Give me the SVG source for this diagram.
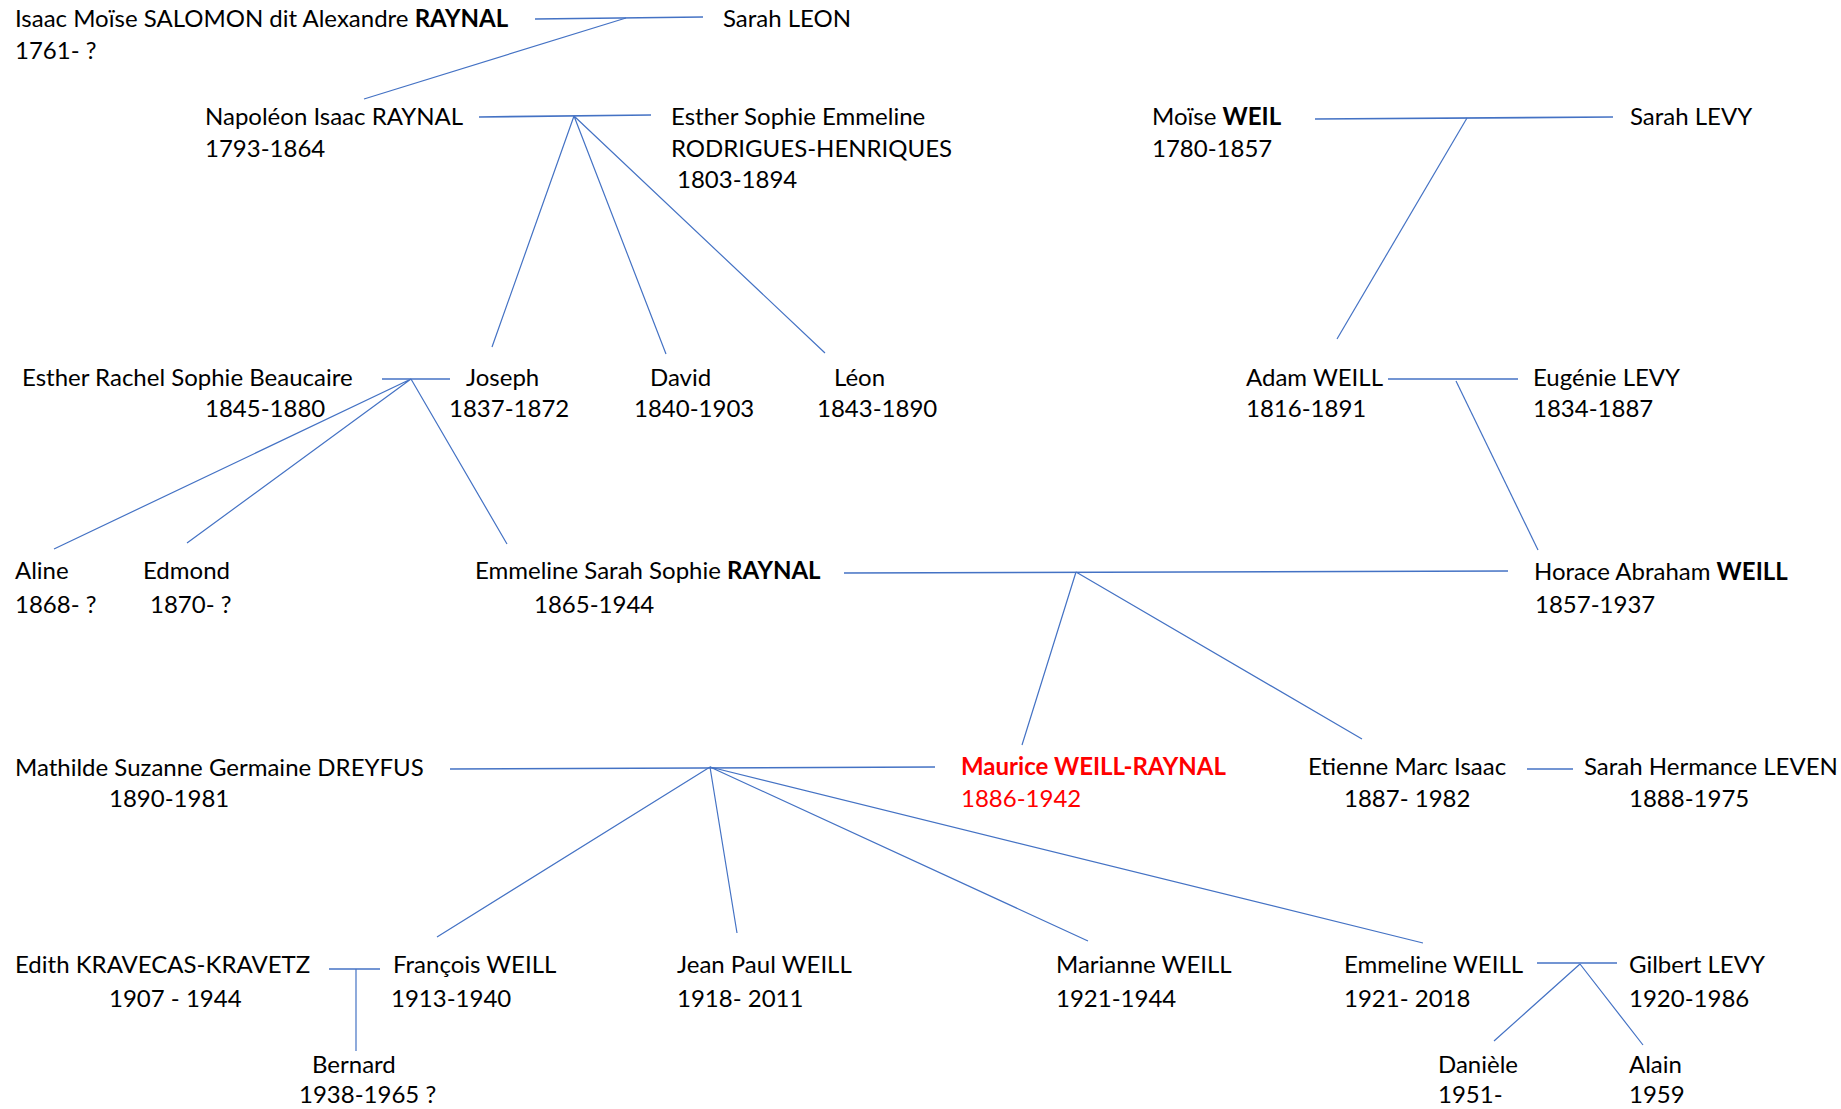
<svg xmlns="http://www.w3.org/2000/svg" width="1841" height="1109" viewBox="0 0 1841 1109">
<style>
text{font-family:Lato,"Liberation Sans",sans-serif;font-size:24px;fill:#000}
.b{font-weight:bold}
.red{fill:#ff0000}
.sp{stroke:#4472C4;stroke-width:1.6;fill:none}
.ch{stroke:#4472C4;stroke-width:1.2;fill:none}
</style>
<rect width="1841" height="1109" fill="#fff"/>
<g id="connectors">
<path class="sp" d="M535,19 L703,17"/>
<path class="ch" d="M626,18 L364,99"/>
<path class="sp" d="M479,117 L651,115"/>
<path class="ch" d="M574,116 L492,347 M574,116 L666,354 M574,116 L825,353"/>
<path class="sp" d="M1315,119 L1613,117"/>
<path class="ch" d="M1467,118 L1337,339"/>
<path class="sp" d="M382,379 L450,379"/>
<path class="ch" d="M411,379 L54,549 M411,379 L187,543 M411,379 L507,544"/>
<path class="sp" d="M1388,379 L1518,379"/>
<path class="ch" d="M1456,381 L1538,550"/>
<path class="sp" d="M844,573 L1508,571"/>
<path class="ch" d="M1076,572 L1022,745 M1076,572 L1362,739"/>
<path class="sp" d="M450,769 L935,767"/>
<path class="sp" d="M1527,769 L1573,769"/>
<path class="ch" d="M710,767 L437,937 M710,767 L737,933 M710,767 L1088,941 M710,767 L1423,943"/>
<path class="sp" d="M329,969 L380,969"/>
<path class="ch" d="M356,969 L356,1051"/>
<path class="sp" d="M1537,963 L1617,963"/>
<path class="ch" d="M1580,964 L1494,1041 M1580,964 L1643,1045"/>
</g>
<g id="isaac"><text x="15" y="27">Isaac Moïse SALOMON dit Alexandre <tspan class="b">RAYNAL</tspan></text><text x="15" y="59">1761- ?</text></g>
<g id="sarah-leon"><text x="723" y="27">Sarah LEON</text></g>
<g id="napoleon"><text x="205" y="125">Napoléon Isaac RAYNAL</text><text x="205" y="157">1793-1864</text></g>
<g id="esther-sophie"><text x="671" y="125">Esther Sophie Emmeline</text><text x="671" y="157">RODRIGUES-HENRIQUES</text><text x="677" y="188">1803-1894</text></g>
<g id="moise"><text x="1152" y="125">Moïse <tspan class="b">WEIL</tspan></text><text x="1152" y="157">1780-1857</text></g>
<g id="sarah-levy"><text x="1630" y="125">Sarah LEVY</text></g>
<g id="esther-rachel"><text x="22" y="386">Esther Rachel Sophie Beaucaire</text><text x="205" y="417">1845-1880</text></g>
<g id="joseph"><text x="466" y="386">Joseph</text><text x="449" y="417">1837-1872</text></g>
<g id="david"><text x="650" y="386">David</text><text x="634" y="417">1840-1903</text></g>
<g id="leon"><text x="834" y="386">Léon</text><text x="817" y="417">1843-1890</text></g>
<g id="adam"><text x="1246" y="386">Adam WEILL</text><text x="1246" y="417">1816-1891</text></g>
<g id="eugenie"><text x="1533" y="386">Eugénie LEVY</text><text x="1533" y="417">1834-1887</text></g>
<g id="aline"><text x="15" y="579">Aline</text><text x="15" y="613">1868- ?</text></g>
<g id="edmond"><text x="143" y="579">Edmond</text><text x="150" y="613">1870- ?</text></g>
<g id="emmeline-raynal"><text x="475" y="579">Emmeline Sarah Sophie <tspan class="b">RAYNAL</tspan></text><text x="534" y="613">1865-1944</text></g>
<g id="horace"><text x="1534" y="580">Horace Abraham <tspan class="b">WEILL</tspan></text><text x="1535" y="613">1857-1937</text></g>
<g id="mathilde"><text x="15" y="776">Mathilde Suzanne Germaine DREYFUS</text><text x="109" y="807">1890-1981</text></g>
<g id="maurice"><text x="961" y="775" class="b red">Maurice WEILL-RAYNAL</text><text x="961" y="807" class="red">1886-1942</text></g>
<g id="etienne"><text x="1308" y="775">Etienne Marc Isaac</text><text x="1344" y="807">1887- 1982</text></g>
<g id="sarah-hermance"><text x="1584" y="775">Sarah Hermance LEVEN</text><text x="1629" y="807">1888-1975</text></g>
<g id="edith"><text x="15" y="973">Edith KRAVECAS-KRAVETZ</text><text x="109" y="1007">1907 - 1944</text></g>
<g id="francois"><text x="393" y="973">François WEILL</text><text x="391" y="1007">1913-1940</text></g>
<g id="jean-paul"><text x="677" y="973">Jean Paul WEILL</text><text x="677" y="1007">1918- 2011</text></g>
<g id="marianne"><text x="1056" y="973">Marianne WEILL</text><text x="1056" y="1007">1921-1944</text></g>
<g id="emmeline-weill"><text x="1344" y="973">Emmeline WEILL</text><text x="1344" y="1007">1921- 2018</text></g>
<g id="gilbert"><text x="1629" y="973">Gilbert LEVY</text><text x="1629" y="1007">1920-1986</text></g>
<g id="bernard"><text x="312" y="1073">Bernard</text><text x="299" y="1103">1938-1965 ?</text></g>
<g id="daniele"><text x="1438" y="1073">Danièle</text><text x="1438" y="1103">1951-</text></g>
<g id="alain"><text x="1629" y="1073">Alain</text><text x="1629" y="1103">1959</text></g>
</svg>
